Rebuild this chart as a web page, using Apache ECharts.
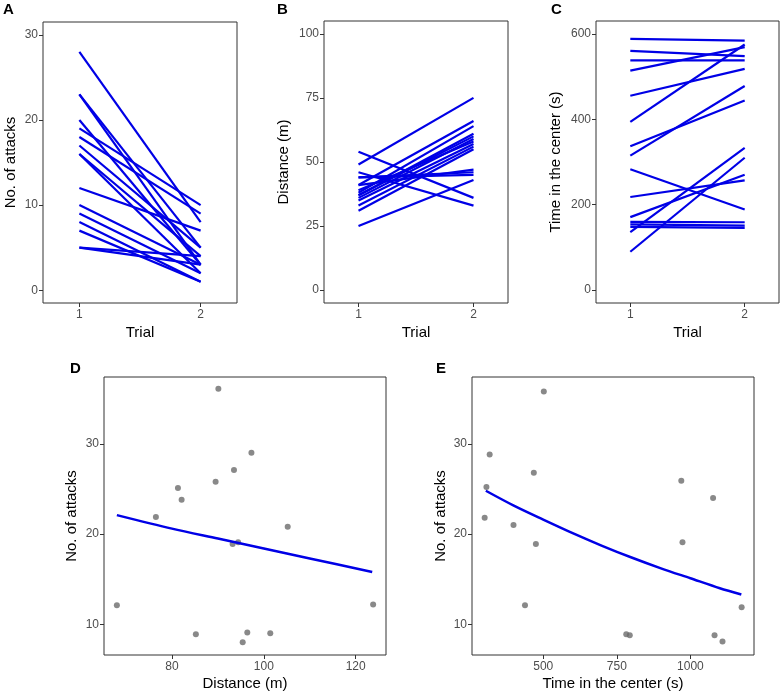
<!DOCTYPE html>
<html><head><meta charset="utf-8">
<script src="https://cdn.jsdelivr.net/npm/echarts@6/dist/echarts.min.js"></script>
<style>html,body{margin:0;padding:0;background:#fff}#c{width:782px;height:696px}</style>
</head><body><div id="c"></div>
<script>
// ---- data ----
const trials = [1, 2];
// Panel A: number of attacks, trial 1 -> trial 2
const attacksT1 = [28, 23, 23, 20, 19, 18, 17, 16, 16, 12, 10, 9, 8, 7, 5, 5];
const attacksT2 = [8, 5, 3, 3, 10, 9, 5, 4, 2, 7, 3, 2, 1, 1, 4, 3];
// Panel B: distance (m)
const distT1 = [49, 54, 46, 44, 44, 41, 41, 38, 37, 37, 36, 35, 33, 31, 25, 39];
const distT2 = [75, 36, 33, 46, 45, 66, 47, 64, 61, 60, 59, 57, 56, 55, 43, 58];
// Panel C: time in the center (s)
const centerT1 = [588, 560, 538, 514, 455, 394, 337, 315, 283, 218, 171, 160, 154, 148, 136, 90];
const centerT2 = [584, 548, 538, 569, 518, 575, 444, 478, 189, 257, 270, 159, 151, 146, 333, 310];
// Panel D: distance vs attacks
const distX = [90.1, 97.3, 93.5, 89.5, 81.3, 82.1, 76.5, 105.2, 94.4, 93.2, 68.0, 123.8, 85.2, 96.4, 101.4, 95.4];
const distAttacks = [36.1, 29.0, 27.1, 25.8, 25.1, 23.8, 21.9, 20.8, 19.1, 18.9, 12.1, 12.2, 8.9, 9.1, 9.0, 8.0];
const distFitX = [68, 80, 90, 100, 110, 123.6];
const distFitY = [22.1, 20.6, 19.5, 18.4, 17.3, 15.8];
// Panel E: time in center vs attacks
const timeX = [502, 318, 307, 468, 301, 399, 475, 438, 969, 1077, 973, 1174, 782, 794, 1082, 1109];
const timeAttacks = [35.8, 28.8, 25.2, 26.8, 21.8, 21.0, 18.9, 12.1, 25.9, 24.0, 19.1, 11.9, 8.9, 8.8, 8.8, 8.1];
const timeFitX = [305, 400, 500, 600, 700, 800, 900, 1000, 1100, 1173];
const timeFitY = [24.8, 23.15, 21.6, 20.1, 18.7, 17.4, 16.2, 15.1, 14.0, 13.3];
// tick labels
const ticksTrial = [1, 2];
const ticksA = [0, 10, 20, 30];
const ticksB = [0, 25, 50, 75, 100];
const ticksC = [0, 200, 400, 600];
const ticksDX = [80, 100, 120];
const ticksEX = [500, 750, 1000];
const ticksAtt = [10, 20, 30];

// ---- styles ----
const FONT = '"Liberation Sans", Arial, sans-serif';
const BLUE = '#0000e6';
const labelStyle = {color: '#4d4d4d', fontSize: 12, fontFamily: FONT};
const nameStyle = {color: '#000', fontSize: 15, fontFamily: FONT};

function axis(gridIndex, min, max, ticks, name, gap, margin) {
  return {
    type: 'value', gridIndex, min, max,
    name, nameLocation: 'middle', nameGap: gap, nameTextStyle: nameStyle,
    axisLine: {show: false, onZero: false},
    splitLine: {show: false},
    axisTick: {show: true, inside: false, customValues: ticks, length: 4, lineStyle: {color: '#333', width: 1}},
    axisLabel: Object.assign({customValues: ticks, margin: margin, formatter: v => String(v)}, labelStyle)
  };
}

const grids = [
  {left: 43, top: 22, width: 194, height: 281},
  {left: 324, top: 21, width: 184, height: 282},
  {left: 596, top: 21, width: 183, height: 282},
  {left: 104, top: 377, width: 282, height: 278},
  {left: 472, top: 377, width: 282, height: 278}
].map(g => Object.assign(g, {show: true, borderColor: '#333', borderWidth: 1, backgroundColor: '#fff'}));

const xAxes = [
  axis(0, 0.7, 2.3, ticksTrial, 'Trial', 22, 6),
  axis(1, 0.7, 2.3, ticksTrial, 'Trial', 22, 6),
  axis(2, 0.7, 2.3, ticksTrial, 'Trial', 22, 6),
  axis(3, 65.2, 126.6, ticksDX, 'Distance (m)', 21, 6),
  axis(4, 258, 1216, ticksEX, 'Time in the center (s)', 21, 6)
];
const yAxes = [
  axis(0, -1.5, 31.5, ticksA, 'No. of attacks', 25, 5),
  axis(1, -5, 105, ticksB, 'Distance (m)', 33, 5),
  axis(2, -30, 630, ticksC, 'Time in the center (s)', 33, 5),
  axis(3, 6.6, 37.4, ticksAtt, 'No. of attacks', 25, 5),
  axis(4, 6.6, 37.4, ticksAtt, 'No. of attacks', 24, 5)
];

const series = [];
function pairs(idx, t1, t2) {
  t1.forEach((v, i) => {
    series.push({
      type: 'line', xAxisIndex: idx, yAxisIndex: idx, symbol: 'none', silent: true,
      data: [[trials[0], v], [trials[1], t2[i]]],
      lineStyle: {color: BLUE, width: 2.2}
    });
  });
}
pairs(0, attacksT1, attacksT2);
pairs(1, distT1, distT2);
pairs(2, centerT1, centerT2);
series.push({type: 'scatter', xAxisIndex: 3, yAxisIndex: 3, symbolSize: 6,
  itemStyle: {color: '#6b6b6b'}, data: distX.map((x, i) => [x, distAttacks[i]])});
series.push({type: 'line', xAxisIndex: 3, yAxisIndex: 3, symbol: 'none', smooth: 0.3,
  lineStyle: {color: BLUE, width: 2.5}, data: distFitX.map((x, i) => [x, distFitY[i]])});
series.push({type: 'scatter', xAxisIndex: 4, yAxisIndex: 4, symbolSize: 6,
  itemStyle: {color: '#6b6b6b'}, data: timeX.map((x, i) => [x, timeAttacks[i]])});
series.push({type: 'line', xAxisIndex: 4, yAxisIndex: 4, symbol: 'none', smooth: 0.3,
  lineStyle: {color: BLUE, width: 2.5}, data: timeFitX.map((x, i) => [x, timeFitY[i]])});

const letter = (t, l, top) => ({text: t, left: l, top: top, padding: 0,
  textStyle: {fontSize: 15, fontWeight: 'bold', color: '#000', fontFamily: FONT}});

const chart = echarts.init(document.getElementById('c'), null, {renderer: 'canvas'});
chart.setOption({
  animation: false,
  backgroundColor: '#fff',
  title: [letter('A', 3, 2), letter('B', 277, 2), letter('C', 551, 2), letter('D', 70, 361), letter('E', 436, 361)],
  grid: grids, xAxis: xAxes, yAxis: yAxes, series
});
</script></body></html>
